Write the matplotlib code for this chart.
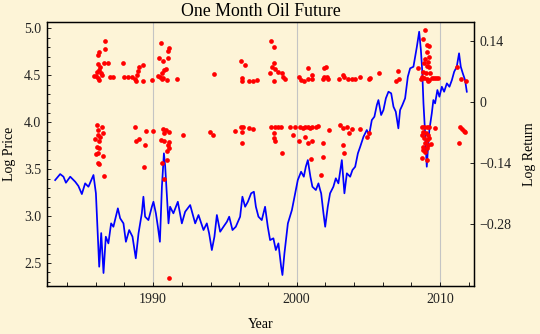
import matplotlib
matplotlib.use("Agg")
import matplotlib.pyplot as plt
from matplotlib.ticker import FixedLocator, FuncFormatter

# log price of the one month future
years = [1983.17, 1983.52, 1983.75, 1983.92, 1984.22, 1984.57, 1984.79, 1985.03, 1985.26, 1985.49,
         1985.84, 1986.01, 1986.15, 1986.24, 1986.38, 1986.54, 1986.70, 1986.88, 1987.07, 1987.23,
         1987.54, 1987.70, 1987.93, 1988.10, 1988.33, 1988.56, 1988.79, 1988.98, 1989.21, 1989.32,
         1989.44, 1989.67, 1989.91, 1990.02, 1990.19, 1990.33, 1990.47, 1990.61, 1990.75, 1990.84,
         1990.95, 1991.07, 1991.18, 1991.41, 1991.72, 1992.00, 1992.23, 1992.58, 1992.93, 1993.16,
         1993.51, 1993.74, 1993.90, 1994.09, 1994.27, 1994.44, 1994.67, 1994.90, 1995.14, 1995.30,
         1995.53, 1995.76, 1996.06, 1996.22, 1996.41, 1996.60, 1996.83, 1997.02, 1997.16, 1997.34,
         1997.57, 1997.80, 1997.99, 1998.15, 1998.38, 1998.55, 1998.73, 1998.92, 1999.01, 1999.15,
         1999.39, 1999.67, 1999.90, 2000.08, 2000.31, 2000.50, 2000.64, 2000.78, 2000.96, 2001.10,
         2001.34, 2001.52, 2001.64, 2001.71, 2001.87, 2001.99, 2002.17, 2002.33, 2002.56, 2002.73,
         2002.91, 2003.15, 2003.33, 2003.50, 2003.73, 2003.89, 2004.08, 2004.27, 2004.43, 2004.66,
         2004.89, 2005.05, 2005.24, 2005.42, 2005.59, 2005.70, 2005.89, 2006.05, 2006.22, 2006.40,
         2006.59, 2006.75, 2006.91, 2007.09, 2007.21, 2007.37, 2007.56, 2007.75, 2007.91, 2008.14,
         2008.38, 2008.54, 2008.66, 2008.75, 2008.84, 2008.93, 2009.02, 2009.07, 2009.16, 2009.25,
         2009.42, 2009.53, 2009.65, 2009.81, 2009.95, 2010.12, 2010.28, 2010.47, 2010.65, 2010.82,
         2010.98, 2011.16, 2011.32, 2011.44, 2011.58, 2011.74, 2011.86]
log_price = [3.384, 3.448, 3.420, 3.356, 3.420, 3.366, 3.321, 3.235, 3.349, 3.313,
             3.438, 3.243, 2.781, 2.461, 2.820, 2.394, 2.781, 2.710, 2.923, 2.887,
             3.083, 2.977, 2.923, 2.727, 2.852, 2.781, 2.551, 2.817, 3.030, 3.207,
             2.994, 2.958, 3.100, 3.153, 3.030, 2.887, 2.727, 3.313, 3.669, 3.526,
             3.243, 2.923, 3.100, 3.030, 3.153, 2.923, 3.047, 3.118, 2.923, 3.012,
             2.852, 2.923, 2.817, 2.639, 2.781, 3.012, 2.834, 2.887, 2.940, 2.994,
             2.852, 2.887, 2.994, 3.207, 3.100, 3.153, 3.243, 3.260, 3.100, 2.994,
             2.958, 3.100, 2.887, 2.745, 2.764, 2.639, 2.710, 2.461, 2.373, 2.604,
             2.923, 3.065, 3.243, 3.384, 3.473, 3.420, 3.526, 3.597, 3.420, 3.313,
             3.278, 3.349, 3.278, 3.243, 3.030, 2.887, 3.100, 3.243, 3.313, 3.403,
             3.349, 3.597, 3.243, 3.456, 3.420, 3.491, 3.526, 3.669, 3.739, 3.846,
             3.917, 3.864, 4.023, 4.059, 4.183, 4.236, 4.077, 4.130, 4.255, 4.325,
             4.308, 4.165, 4.112, 3.935, 4.130, 4.183, 4.255, 4.485, 4.574, 4.591,
             4.804, 4.964, 4.769, 4.556, 4.201, 3.952, 3.669, 3.526, 3.739, 3.917,
             4.095, 4.236, 4.201, 4.343, 4.272, 4.378, 4.325, 4.414, 4.378, 4.449,
             4.538, 4.591, 4.734, 4.591, 4.521, 4.449, 4.325]

# large log returns (red points)
ret_years = [1986.61, 1986.14, 1986.26, 1986.61, 1986.19, 1986.31, 1986.56, 1986.82, 1986.07, 1986.24,
             1986.38, 1986.00, 1986.19, 1986.42, 1985.91, 1986.26, 1987.00, 1987.19, 1987.93, 1988.00,
             1988.28, 1988.56, 1988.70, 1988.79, 1988.86, 1988.91, 1988.98,
             1986.12, 1986.42, 1986.19, 1986.47, 1985.96, 1986.14, 1986.31, 1986.24, 1986.07, 1986.26,
             1986.14, 1986.47, 1986.03, 1986.19, 1986.26, 1986.54, 1988.75, 1988.79, 1988.98,
             1990.56, 1991.07, 1991.00, 1990.44, 1990.72, 1991.02, 1990.88, 1990.60, 1990.79, 1990.33,
             1990.49, 1990.72, 1990.95, 1990.60, 1989.26, 1989.26, 1989.95, 1991.63, 1994.27,
             1989.49, 1990.02, 1990.72, 1990.88, 1991.12, 1990.79, 1990.56, 1990.79, 1991.07, 1991.02,
             1991.12, 1990.95, 1990.95, 1990.65, 1989.33, 1989.40, 1992.11, 1993.93, 1994.20, 1990.79,
             1991.07,
             1998.22, 1998.45, 1996.13, 1996.41, 1998.39, 1998.27, 1998.50, 1998.11, 1998.73, 1998.97,
             1999.08, 1999.20, 1998.45, 1996.18, 1996.22, 1996.69, 1996.99, 1997.22, 2000.17, 2000.31,
             2000.48, 2000.78, 2000.82, 2001.06, 2001.10,
             1995.71, 1996.13, 1996.29, 1996.22, 1996.69, 1996.99, 1998.22, 1998.50, 1998.73, 1998.92,
             1998.45, 1998.39, 1998.50, 1998.97, 1999.55, 1999.90, 1999.78, 2000.24, 2000.41, 2000.55,
             2000.78, 2000.94, 2001.10, 2001.34, 2001.52, 2000.55, 2000.78, 2001.10, 2000.17, 1996.22,
             2001.01,
             2001.94, 2002.03, 2001.94, 2002.10, 2001.87, 2002.17, 2002.96, 2003.26, 2003.33, 2003.61,
             2003.89, 2004.08, 2004.42, 2005.01, 2005.12, 2005.75, 2007.05, 2006.91, 2007.10,
             2002.29, 2003.05, 2003.26, 2003.50, 2003.68, 2003.89, 2004.42, 2005.01, 2004.89, 2001.87,
             2001.87, 2003.26, 2003.33, 2001.71,
             2008.98, 2008.79, 2009.07, 2009.21, 2009.12, 2009.26, 2008.96, 2009.19, 2008.89, 2009.07,
             2009.26, 2008.49, 2008.79, 2009.02, 2009.30, 2008.72, 2008.89, 2009.07, 2009.26, 2009.42,
             2009.54, 2009.72, 2009.88, 2008.65, 2009.19, 2011.21, 2011.44, 2011.77,
             2008.72, 2008.89, 2009.07, 2009.26, 2009.61, 2008.84, 2009.02, 2009.19, 2008.72, 2008.89,
             2009.07, 2009.26, 2008.96, 2008.79, 2009.19, 2009.35, 2009.07, 2008.84, 2008.96, 2008.72,
             2009.07, 2011.39, 2011.51, 2011.67, 2011.74, 2011.35]
ret_vals = [0.139, 0.109, 0.114, 0.121, 0.0865, 0.0811, 0.0903, 0.0903, 0.0696, 0.0735,
            0.0673, 0.0597, 0.0543, 0.0620, 0.0597, 0.0505, 0.0581, 0.0566, 0.0903, 0.0566,
            0.0566, 0.0566, 0.0520, 0.0490, 0.0620, 0.0719, 0.0811,
            -0.0535, -0.0581, -0.0642, -0.0719, -0.0857, -0.0757, -0.0811, -0.0887, -0.1025, -0.1063,
            -0.1178, -0.1239, -0.1201, -0.1408, -0.1423, -0.1698, -0.0566, -0.0903, -0.0857,
            0.1346, 0.1247, 0.1171, 0.1002, 0.0941, 0.1018, 0.0750, 0.0658, 0.0735, 0.0597,
            0.0566, 0.0543, 0.0505, 0.0520, 0.0849, 0.0482, 0.0497, 0.0520, 0.0635,
            -0.0673, -0.0673, -0.0627, -0.0642, -0.0696, -0.0719, -0.0872, -0.0887, -0.0910, -0.0987,
            -0.1048, -0.1124, -0.1331, -0.1408, -0.1484, -0.0979, -0.0750, -0.0696, -0.0750, -0.1775,
            -0.4047,
            0.1408, 0.1255, 0.0933, 0.0842, 0.0888, 0.0811, 0.0750, 0.0658, 0.0696, 0.0658,
            0.0581, 0.0536, 0.0490, 0.0543, 0.0490, 0.0490, 0.0490, 0.0505, 0.0566, 0.0505,
            0.0474, 0.0520, 0.0788, 0.0620, 0.0536,
            -0.0658, -0.0581, -0.0566, -0.0688, -0.0597, -0.0612, -0.0581, -0.0581, -0.0581, -0.0581,
            -0.0704, -0.0834, -0.0887, -0.1178, -0.0566, -0.0566, -0.0750, -0.0566, -0.0589, -0.0566,
            -0.0566, -0.0597, -0.0566, -0.0566, -0.0551, -0.0811, -0.0933, -0.0887, -0.0903, -0.0933,
            -0.1316,
            0.0780, 0.0796, 0.0581, 0.0566, 0.0520, 0.0536, 0.0536, 0.0620, 0.0566, 0.0536,
            0.0520, 0.0536, 0.0581, 0.0536, 0.0543, 0.0658, 0.0719, 0.0490, 0.0520,
            -0.0642, -0.0535, -0.0597, -0.0581, -0.0719, -0.0627, -0.0612, -0.0704, -0.0796, -0.0949,
            -0.1255, -0.0995, -0.1178, -0.1683,
            0.1652, 0.1438, 0.1308, 0.1285, 0.1155, 0.1040, 0.0979, 0.0926, 0.0888, 0.0826,
            0.0811, 0.0788, 0.0696, 0.0658, 0.0658, 0.0581, 0.0543, 0.0520, 0.0505, 0.0543,
            0.0543, 0.0543, 0.0543, 0.0520, 0.0490, 0.0811, 0.0520, 0.0490,
            -0.0581, -0.0566, -0.0581, -0.0581, -0.0604, -0.0681, -0.0719, -0.0757, -0.0757, -0.0834,
            -0.0872, -0.0834, -0.0933, -0.1025, -0.0987, -0.0964, -0.1063, -0.1101, -0.1140, -0.1293,
            -0.1331, -0.0581, -0.0627, -0.0658, -0.0681, -0.0933]

price_ticks = [2.5, 3.0, 3.5, 4.0, 4.5, 5.0]
return_ticks = [-0.28, -0.14, 0.0, 0.14]
year_ticks = [1990, 2000, 2010]
year_minor = [1984, 1986, 1988, 1992, 1994, 1996, 1998, 2002, 2004, 2006, 2008, 2012]

bg = "#FDF4D7"
plt.rcParams["font.family"] = ["Liberation Serif", "DejaVu Serif"]

fig = plt.figure(figsize=(5.4, 3.34), dpi=100, facecolor=bg)
ax = fig.add_axes([0.087, 0.1437, 0.791, 0.7903])
ax.set_facecolor(bg)

ax.plot(years, log_price, color="#0000FF", lw=1.25)
ax.set_xlim(1982.6, 2012.37)
ax.set_ylim(2.256, 5.067)

ax.xaxis.set_major_locator(FixedLocator(year_ticks))
ax.xaxis.set_minor_locator(FixedLocator(year_minor))
ax.yaxis.set_major_locator(FixedLocator(price_ticks))
ax.yaxis.set_minor_locator(FixedLocator([2.3 + 0.1 * i for i in range(28)]))
ax.yaxis.set_major_formatter(FuncFormatter(lambda v, p: "%.1f" % v))
ax.grid(axis="x", which="major", color="#c4c4c4", lw=0.8)

ax.tick_params(which="both", direction="in", top=False, right=False,
               labelsize=10, labelcolor="#222222", width=0.6, pad=4)
ax.tick_params(which="major", length=3.2)
ax.tick_params(axis="x", which="minor", length=3.0)
ax.tick_params(axis="y", which="minor", length=2.0)
ax.tick_params(axis="x", pad=5)

ax.set_xlabel("Year", fontsize=10, labelpad=9)
ax.set_ylabel("Log Price", fontsize=10, labelpad=6)
ax.set_title("One Month Oil Future", fontsize=12.8, pad=4)

ax2 = ax.twinx()
ax2.patch.set_visible(False)
ax2.plot(ret_years, ret_vals, "o", color="#FF0000", ms=3.4, mew=0)
ax2.set_ylim(-0.4223, 0.1836)
ax2.yaxis.set_major_locator(FixedLocator(return_ticks))
ax2.yaxis.set_major_formatter(FuncFormatter(
    lambda v, p: "0" if abs(v) < 1e-9 else ("%.2f" % v).replace("-", "\u2212")))
ax2.tick_params(direction="in", length=3.2, width=0.6, labelsize=10,
                labelcolor="#222222", pad=4)
ax2.set_ylabel("Log Return", fontsize=10, labelpad=8)

for a in (ax, ax2):
    for s in a.spines.values():
        s.set_linewidth(0.9)

fig.savefig("out.png", dpi=100, facecolor=bg)
